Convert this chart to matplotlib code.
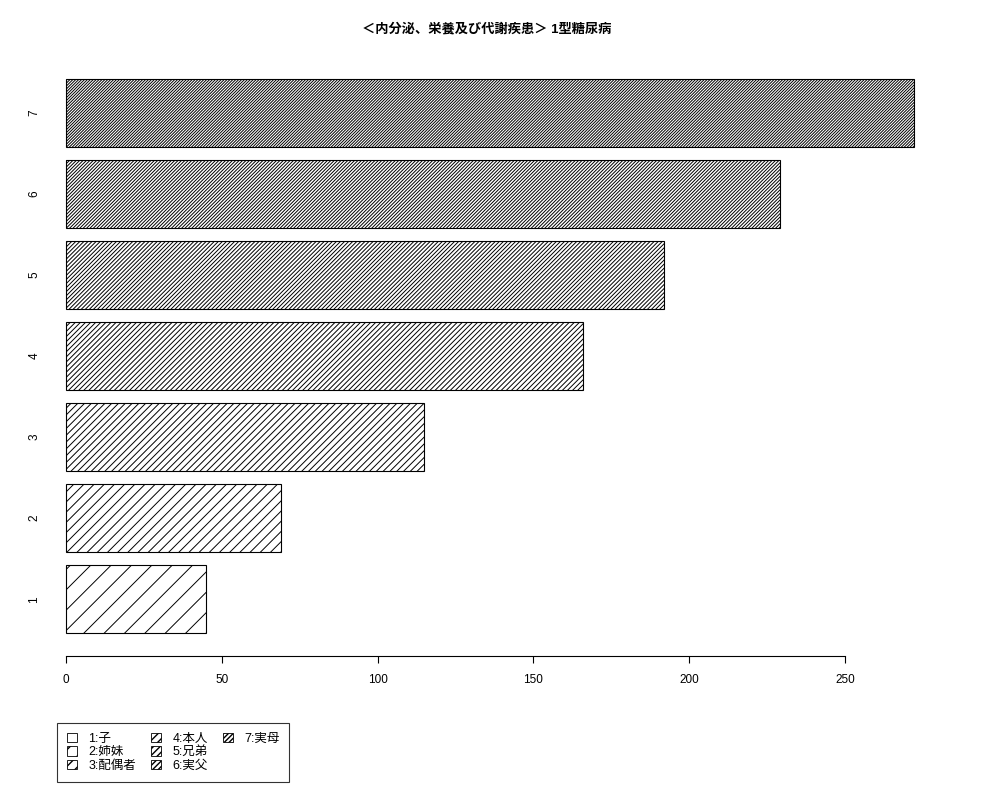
import numpy as np
import matplotlib
matplotlib.use("Agg")
import matplotlib.pyplot as plt
from matplotlib.patches import Patch
from matplotlib.collections import LineCollection
from matplotlib.transforms import IdentityTransform

plt.rcParams['font.family'] = ['Liberation Sans', 'Noto Sans CJK JP']

# data
categories = ['1', '2', '3', '4', '5', '6', '7']
values = [45, 69, 115, 166, 192, 229, 272]
legend_labels = ['1:子', '2:姉妹', '3:配偶者', '4:本人', '5:兄弟', '6:実父', '7:実母']
title = '＜内分泌、栄養及び代謝疾患＞ 1型糖尿病'

# hatch density (lines per inch, R style)
densities = [5, 10, 15, 20, 25, 30, 35]

fig = plt.figure(figsize=(10, 8), dpi=100)
ax = fig.add_axes([0.05, 0.1806, 0.90, 0.7490])

ypos = 0.7 + 1.2 * np.arange(len(values))
bars = ax.barh(ypos, values, height=1.0, color='white', edgecolor='black',
               linewidth=0.8, zorder=1)

ax.set_xlim(-5.13, 283.7)
ax.set_ylim(-0.133, 8.736)

ax.set_xticks([0, 50, 100, 150, 200, 250])
ax.set_yticks(ypos)
ax.set_yticklabels(categories, rotation=90, va='center')
ax.tick_params(axis='x', length=5, width=0.8, pad=8, labelsize=8.5)
ax.tick_params(axis='y', length=0, pad=7, labelsize=8.5)
for s in ['top', 'right', 'left']:
    ax.spines[s].set_visible(False)
ax.spines['bottom'].set_bounds(0, 250)
ax.spines['bottom'].set_linewidth(0.8)

# hatching drawn in pixel space, clipped to each bar
for bar, d in zip(bars, densities):
    bb = bar.get_window_extent()
    step = 72 * np.sqrt(2) / d
    cs = np.arange(bb.y0 - bb.x1, bb.y1 - bb.x0 + step, step)
    segs = [[(bb.x0 - 2, bb.x0 - 2 + c), (bb.x1 + 2, bb.x1 + 2 + c)] for c in cs]
    lc = LineCollection(segs, colors='black', linewidths=0.7, zorder=2)
    lc.set_transform(IdentityTransform())
    ax.add_collection(lc, autolim=False)
    lc.set_clip_path(bar)

fig.text(0.487, 1 - 29 / 800, title, ha='center', va='center', fontsize=9.5, fontweight='bold')

handles = [Patch(facecolor='white', edgecolor='black', linewidth=0.6, hatch='/' * (i + 1))
           for i in range(len(legend_labels))]
labels = list(legend_labels)
# two empty slots so the columns fill 3, 3, 1
handles += [Patch(visible=False), Patch(visible=False)]
labels += ['', '']
leg = fig.legend(handles, labels, loc='lower left', bbox_to_anchor=(0.057, 0.0225),
                 ncol=3, fontsize=9, frameon=True, fancybox=False, edgecolor='black',
                 handlelength=0.8, handleheight=0.8, handletextpad=0.9, columnspacing=1.2,
                 labelspacing=0.12, borderpad=0.8, borderaxespad=0)
leg.get_frame().set_linewidth(0.8)

fig.savefig('out.png', dpi=100)
